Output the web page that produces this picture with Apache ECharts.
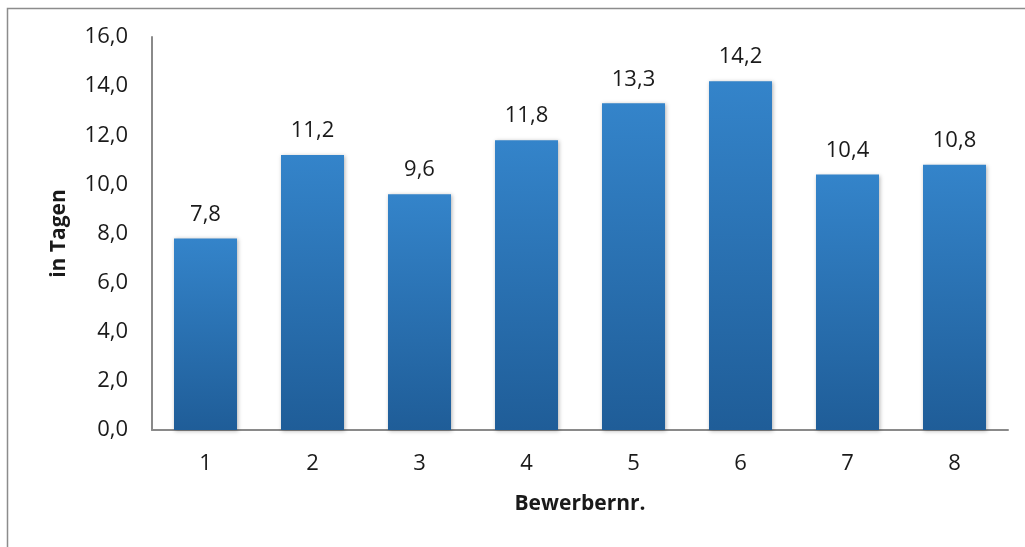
<!DOCTYPE html>
<html><head><meta charset="utf-8">
<script src="https://cdn.jsdelivr.net/npm/echarts@6/dist/echarts.min.js"></script>
<style>html,body{margin:0;padding:0;background:#fff}#c{width:1025px;height:547px}</style>
</head><body><div id="c"></div>
<script>
const categories = ['1','2','3','4','5','6','7','8'];
const values = [7.8, 11.2, 9.6, 11.8, 13.3, 14.2, 10.4, 10.8];
const yTicks = [0,2,4,6,8,10,12,14,16];
const fmt = v => Number(v).toFixed(1).replace('.', ',');
const chart = echarts.init(document.getElementById('c'));
chart.setOption({
  animation: false,
  graphic: [{type:'rect', shape:{x:7.5,y:8.5,width:1100,height:600}, style:{fill:'none', stroke:'#8c8c8c', lineWidth:1.5}}],
  grid: {left:152, right:17, top:37, bottom:117},
  xAxis: {
    type:'category', data: categories,
    axisLine:{lineStyle:{color:'#8a8a8a', width:2}},
    axisTick:{show:false},
    axisLabel:{color:'#1a1a1a', fontSize:22, fontFamily:'Open Sans', margin:23},
    name:'Bewerbernr.', nameLocation:'middle', nameGap:64,
    nameTextStyle:{fontSize:21, fontWeight:'bold', color:'#1a1a1a', fontFamily:'Open Sans'}
  },
  yAxis: {
    type:'value', min:yTicks[0], max:yTicks[yTicks.length-1], interval:2,
    axisLine:{show:true, lineStyle:{color:'#8a8a8a', width:2}},
    axisTick:{show:false}, splitLine:{show:false},
    axisLabel:{color:'#1a1a1a', fontSize:22, fontFamily:'Open Sans', margin:24, formatter: fmt},
    name:'in Tagen', nameLocation:'middle', nameGap:82, nameRotate:90,
    nameTextStyle:{fontSize:21, fontWeight:'bold', color:'#1a1a1a', fontFamily:'Open Sans'}
  },
  series: [{
    type:'bar', data: values, barWidth:63,
    itemStyle:{
      color: new echarts.graphic.LinearGradient(0,0,0,1,[{offset:0,color:'#3484ca'},{offset:1,color:'#1f5d98'}]),
      shadowColor:'rgba(0,0,0,0.3)', shadowBlur:4, shadowOffsetX:1, shadowOffsetY:1
    },
    label:{show:true, position:'top', distance:13, fontSize:22, color:'#1a1a1a', fontFamily:'Open Sans', formatter: p => fmt(p.value)}
  }]
});
</script></body></html>
